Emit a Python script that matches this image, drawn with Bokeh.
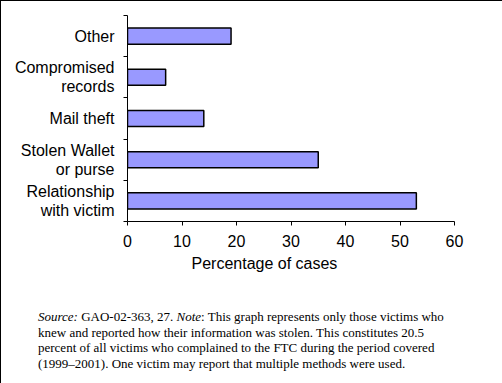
from bokeh.plotting import figure
from bokeh.layouts import column
from bokeh.models import Range1d, FixedTicker, ColumnDataSource, Title, Div
from bokeh.embed import file_html
from bokeh.resources import INLINE

# ---- data ----
categories = ["Relationship\nwith victim", "Stolen Wallet\nor purse", "Mail theft",
              "Compromised\nrecords", "Other"]
values = [53, 35, 14, 7, 19]
x_ticks = [0, 10, 20, 30, 40, 50, 60]
x_label = "Percentage of cases"
note_source = "Source:"
note_ref = "GAO-02-363, 27."
note_note = "Note"
note_lines = [
    ": This graph represents only those victims who",
    "knew and reported how their information was stolen. This constitutes 20.5",
    "percent of all victims who complained to the FTC during the period covered",
    "(1999\u20132001). One victim may report that multiple methods were used.",
]

centers = [i + 0.5 for i in range(len(categories))]
bounds = list(range(len(categories) + 1))

p = figure(width=502, height=295, output_backend="svg", toolbar_location=None,
           x_range=Range1d(x_ticks[0], x_ticks[-1]), y_range=Range1d(0, len(categories)),
           min_border_left=127, min_border_right=48, min_border_top=15,
           min_border_bottom=74)
p.outline_line_color = None
p.grid.visible = False
p.background_fill_color = None
p.border_fill_color = None

src = ColumnDataSource(dict(y=centers, v=values))
p.hbar(y="y", right="v", left=0, height=0.39, source=src,
       fill_color="#9999FF", line_color="black", line_width=1.5)

xa = p.xaxis[0]
xa.ticker = FixedTicker(ticks=x_ticks, minor_ticks=[])
xa.major_tick_out = 4
xa.major_tick_in = 0
xa.minor_tick_out = 0
xa.minor_tick_in = 0
xa.axis_line_color = "black"
xa.axis_line_width = 1
xa.major_label_text_font = "Liberation Sans"
xa.major_label_text_font_size = "16px"
xa.major_label_text_color = "black"
xa.major_label_standoff = 9

ya = p.yaxis[0]
ya.ticker = FixedTicker(ticks=centers, minor_ticks=bounds)
ya.major_label_overrides = {c: lab for c, lab in zip(centers, categories)}
ya.major_tick_out = 0
ya.major_tick_in = 0
ya.minor_tick_out = 4
ya.minor_tick_in = 0
ya.axis_line_color = "black"
ya.axis_line_width = 1
ya.major_label_text_font = "Liberation Sans"
ya.major_label_text_font_size = "16px"
ya.major_label_text_color = "black"
ya.major_label_text_line_height = 1.1
ya.major_label_standoff = 9

p.add_layout(Title(text=x_label, align="left", offset=64, vertical_align="top",
                   standoff=10, text_font="Liberation Sans", text_font_size="16px",
                   text_font_style="normal", text_color="black"), "below")

note_html = ("<i>%s</i> %s <i>%s</i>%s<br>" % (note_source, note_ref, note_note, note_lines[0])
             + "<br>".join(note_lines[1:]))
div = Div(width=502, height=88,
          text=('<div style="padding:9px 0 0 33px;font-family:\'Liberation Serif\';'
                'font-size:13px;line-height:15.6px;white-space:nowrap;color:black;">'
                + note_html + '</div>'))

layout = column(p, div, spacing=0,
                styles={"outline": "1px solid black", "outline-offset": "-1px"})

open("out.html", "w").write(file_html(layout, INLINE))
